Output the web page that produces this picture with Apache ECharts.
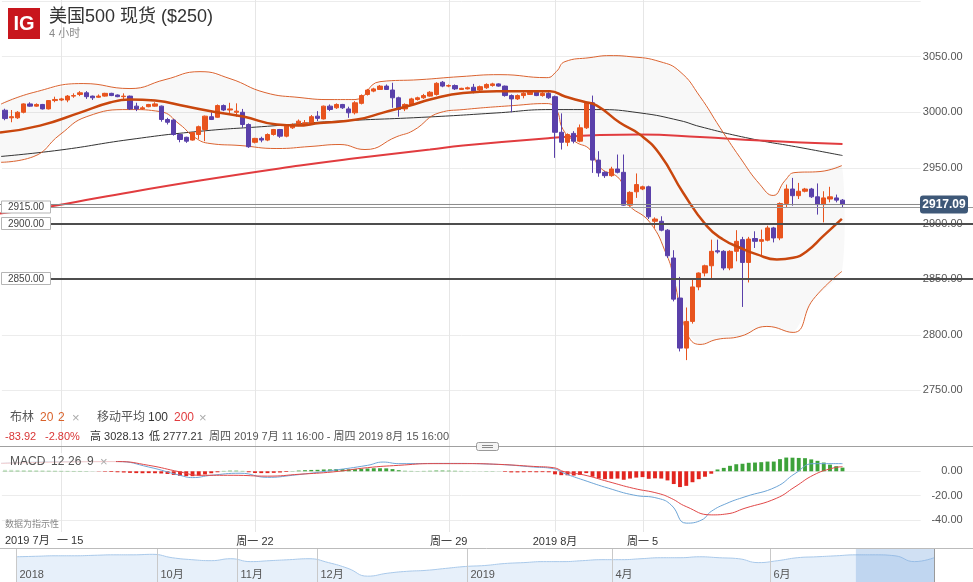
<!DOCTYPE html>
<html><head><meta charset="utf-8">
<script src="https://cdn.jsdelivr.net/npm/echarts@6/dist/echarts.min.js"></script>
<style>html,body{margin:0;padding:0;background:#fff}#c{width:973px;height:582px}</style>
</head><body><div id="c"></div>
<script>
// ---- DATA ----
// 4-hour candles, [open, close, low, high], 11 Jul 2019 16:00 .. 15 Aug 2019 16:00
const candles = [
[3001.8,2994.3,2992.8,3003.2],[2995,2996,2991,3002],[2995,3000,2994,3001],[3000,3007.5,2999,3008],
[3007.5,3005.5,3005,3009],[3005.5,3007,3005,3008],[3007,3003,3002.5,3007.5],[3003,3010.5,3002.5,3011],
[3010.5,3011.5,3009,3014],[3011,3012,3010,3013],[3011,3014.5,3009,3015.5],[3014.5,3015,3013,3017],
[3016,3017.5,3014.5,3019],[3017.5,3014,3012,3019],[3014.5,3013,3011,3015],[3013.5,3014.5,3013,3016],
[3014.5,3017,3014,3017.5],[3017,3015,3014.5,3017.5],[3015.5,3014,3013.5,3016],[3014,3014.5,3011,3017],
[3014.5,3003,3002,3015],[3005.5,3003,3001,3008.5],[3003,3004,3002,3005.5],[3005,3007,3004.5,3007.5],
[3005.5,3007.5,3005,3009],[3005.5,2993.5,2991.5,3006],[2993.5,2991,2989,2995],[2993,2980,2979,2994],
[2980,2975.5,2973,2981],[2977.5,2974,2972.5,2978],[2975,2981.7,2974.5,2982],[2980,2987,2976,2988],
[2984.5,2996.5,2974,2997],[2996,2993.5,2993,3000],[2995.5,3006,2995,3007],[3006,3002,3001,3007],
[3002,3003,2998,3008.5],[3000,3001,2996,3008],[3000,2989,2986,3003],[2989,2969,2968,2990],
[2973,2976.5,2972,2977],[2976.5,2975,2973,2978],[2975,2980,2974,2981],[2980,2984.5,2979,2985],
[2984.5,2978.5,2977,2985],[2978.5,2987.5,2977.5,2988],[2986,2989,2985,2990],[2988.5,2992,2987.5,2993.5],
[2989.5,2990.5,2988,2993],[2990,2996,2989,2997.5],[2996.5,2994.5,2992,3001],[2994,3005.5,2993.5,3006],
[3005.5,3002.5,3001,3007],[3004,3007,3003,3008],[3007,3004,3003,3007.5],[3003,2999.5,2995,3005],
[2999.5,3008.5,2998,3010],[3008,3015,3007,3016],[3016,3020,3015,3021],[3019,3021,3018,3022],
[3020.5,3023.5,3020,3024.5],[3023.5,3020.5,3020,3025],[3020,3013,3004,3026.5],[3013,3002.5,2996,3014],
[3003,3007,3001,3008],[3007,3012,3006,3013],[3011.5,3013,3010.5,3014],[3013,3015,3012,3016.5],
[3014.5,3018,3014,3019],[3016,3026,3015,3027],[3027,3023.5,3022.5,3028.1],[3023.5,3024,3022.5,3025],
[3024,3021,3020,3025],[3020.5,3021.5,3020,3022],[3021,3022,3020.5,3023],[3022.5,3019,3017,3025.5],
[3020,3023,3019,3024],[3022,3025,3021,3026],[3024,3025.5,3023,3026.5],[3025.5,3023.5,3023,3026],
[3023.5,3015,3014,3024],[3015,3012,3000,3016],[3012,3015,3011,3016],[3015,3017,3012.5,3018],
[3016,3018,3015.5,3019],[3018,3015,3014.5,3019.5],[3015,3017,3014,3018],[3017,3013,3012,3018],
[3014,2982,2959,3015],[2982,2973,2966.5,2999],[2973,2980,2969.5,2981],[2981,2974,2972,2983],
[2974,2986,2973,2989],[2986,3008.5,2985,3009],[3008.5,2957,2945.5,3015],[2957,2945.5,2942,2965],
[2946,2943,2941,2947],[2943,2949,2942,2951],[2949,2946,2945,2962],[2946,2916.5,2916,2962],
[2916.5,2928,2915,2929],[2928.5,2935,2923,2945],[2931,2933,2930,2934],[2933,2906,2904,2934],
[2902,2904,2896,2905.5],[2902,2894,2893,2906.5],[2894,2871,2869,2895],[2869,2832,2830,2876],
[2833,2788,2785,2852],[2788,2812,2777.2,2824.5],[2812,2843,2810,2851],[2843,2855.5,2840,2856],
[2855.5,2862,2852.5,2863],[2862,2875,2850,2885.5],[2875.5,2874.5,2873,2885.5],[2875,2860,2858,2876],
[2860,2875,2858,2876],[2875,2884,2866,2894],[2885.5,2865,2825,2888],[2865,2886,2847,2888],
[2886.5,2884,2878,2893],[2884,2885.5,2870,2894.5],[2885,2896,2884,2898],[2896,2887,2883,2897],
[2887,2918,2885,2919],[2918,2931,2914,2935],[2931,2925,2916,2941],[2925,2929,2922,2936.5],
[2929,2931,2928,2932],[2931,2924,2923,2932],[2924,2917,2908,2936],[2917,2923,2901,2929],
[2922,2924,2919,2933],[2923,2921,2919,2926],[2921,2917.09,2914,2922]
];
const barSlots = 147; // bar slots on the time axis (candles + empty space)
const categories = Array.from({length: barSlots}, (_, i) => String(i));
// Indicator lines: [bar index, value]
const bbUpper = [[-0.8,3006.9],[4.5,3017.7],[12.5,3025.8],[20,3021.3],[25.6,3029.3],[31.2,3036.5],[36,3030.2],[41.6,3017.7],[47.2,3013.2],[52,3011.4],[56,3011.4],[60,3027.5],[66.4,3029.3],[72.8,3032],[79.2,3033.8],[86.7,3031.1],[88.2,3036.5],[89.6,3045.5],[93.6,3049.1],[96.8,3050.9],[100,3050],[104.8,3045.5],[108,3036.5],[111.2,3014.1],[114.4,2986.2],[117.6,2959.3],[120.8,2935],[122.9,2925.2],[124.8,2938.6],[126.4,2945.8],[130.4,2946.7],[133.9,2952.1]];
const bbLower = [[-0.8,2955],[4.5,2960],[8.8,2979.9],[13.1,2996.1],[20,3002.4],[24.8,3000.6],[28,2988.9],[30.4,2977.2],[32.8,2971.9],[37.6,2970.1],[43.5,2967.4],[48.8,2969.2],[53.6,2971],[57.6,2966.5],[62.7,2978.1],[65.3,2983.5],[69.6,2999.7],[73.3,3002.4],[81.3,3006],[86.7,3007.8],[88.2,3002.4],[89.3,2984.4],[91.2,2973.7],[93.6,2966.5],[95.2,2950.3],[98.4,2939.5],[99.5,2918.9],[103.2,2900.9],[105.9,2871.3],[106.9,2853.3],[109.1,2802.1],[111.2,2791.3],[113.9,2795.8],[117.6,2798.5],[121.9,2807.5],[126.1,2802.1],[129.3,2831.7],[133.9,2856.9]];
const bbMiddle = [[-0.8,2981.7],[5.6,2988],[12,2999.7],[16.8,3008.7],[20,3011.4],[24,3010.5],[29.1,3005.1],[33.6,3000.2],[38.1,2996.1],[43.5,2988.9],[46.7,2988],[50.4,2990.3],[56.3,2993.4],[60.5,2999.7],[64.8,3006],[68,3011.4],[73.3,3017.4],[78.7,3018.8],[87.2,3018.8],[89.6,3014.1],[92.5,3009.6],[94.7,3006],[98.4,2990.5],[101.6,2979.9],[104.8,2962],[108.5,2927.6],[112.3,2897.6],[114.9,2885.6],[117.6,2878.2],[120.3,2872.2],[123.5,2867.7],[126.1,2869.2],[128.3,2875.1],[130.9,2888.6],[133.9,2904.2]];
const ma100 = [[-0.8,2960.2],[8.8,2966],[20,2975.5],[31.2,2982.9],[42,2987.4],[52,2991.6],[68,2995.8],[78.7,2999.4],[87.2,3002.4],[94.7,3002.4],[101.6,2999.4],[108,2992.5],[111.2,2987.1],[119.2,2976.4],[127.2,2968.3],[134,2961.1]];
const ma200 = [[-0.8,2909],[7.2,2915.3],[15.2,2923.4],[31.2,2938.6],[47.2,2952.1],[55.7,2958.4],[68,2966.5],[73.3,2970.1],[87.2,2976.8],[95.2,2979.5],[101.6,2980],[111.2,2977.7],[120.8,2974.5],[134,2971.4]];
// MACD (12,26,9)
const macdHist = [1.2,1.2,1.1,1.0,1.0,0.9,0.8,0.7,0.6,0.5,0.4,0.3,0.3,0.2,0.1,-0.2,-0.4,-0.6,-0.8,-1.0,
-1.3,-1.5,-1.6,-1.5,-1.6,-1.8,-2.2,-3.0,-3.8,-4.0,-4.0,-3.6,-2.6,-1.6,-0.8,0.3,0.5,0.5,0.3,-0.8,
-1.4,-1.5,-1.5,-1.3,-1.0,-0.6,0.2,0.6,0.9,1.1,1.2,1.5,1.6,1.8,1.8,1.6,1.8,2.1,2.3,2.5,
2.5,2.4,1.8,0.9,0.4,0.3,0.2,0.3,0.4,0.6,0.6,0.5,0.4,0.3,0.2,0.1,0.1,0.2,0.2,0.1,
-0.5,-0.9,-0.9,-0.8,-0.7,-0.8,-0.7,-0.8,-2.5,-3.2,-3.3,-3.5,-3.0,-1.5,-4.5,-6.0,-6.5,-6.2,-6.0,-7.0,
-6.0,-5.2,-4.8,-6.2,-5.8,-6.0,-7.5,-10.5,-13.0,-12.0,-9.0,-6.5,-4.5,-2.0,1.5,2.8,4.5,5.8,6.2,7.0,
7.2,7.5,8.0,8.0,10.0,11.3,11.2,11.0,10.8,9.8,8.6,7.2,5.5,4.2,3.0];
const macdLine = [[-0.8,6.5],[8.8,8],[18,8],[23,3.5],[28,-3.3],[30,-5.2],[33,-3.3],[37.6,-1.6],[42,-5],[46,-3.3],[52.5,0.8],[58,4.9],[60.5,7.6],[63,6.3],[70.7,6.5],[78.7,5.7],[84.6,3.5],[87.7,2.2],[89.6,-1.9],[92.6,-7.3],[96.6,-14],[100.6,-19.6],[104.5,-22.3],[106.6,-27.8],[109,-42.7],[111.5,-40],[113,-33],[115.5,-26.4],[118.4,-21],[123.4,-12.8],[126.4,-1.9],[129.4,6.3],[134,6.3]];
const signalLine = [[-0.8,6.5],[18,8],[23,4.9],[28,-0.5],[31.2,-3.3],[36.5,-3.3],[42,-4],[47.2,-2.4],[52.5,-0.5],[58,3],[63,4.9],[68.5,6.3],[74,6.3],[79,5.7],[84.6,4],[87.7,3],[89.6,-0.5],[92.6,-3],[96.6,-8.6],[100.6,-14.1],[104.5,-18.2],[106.6,-22.3],[109,-29.1],[113,-35.9],[115.5,-35.1],[118.4,-30.4],[123.4,-22.3],[126.4,-12.8],[129.4,-3],[132.3,2.4],[134,3.8]];
// x-axis ticks (bar index -> label)
const tickIndex = [9, 40, 71, 88, 102];
const tickLabels = ['一 15', '周一 22', '周一 29', '2019 8月', '周一 5'];
const monthLabel = '2019 7月';
// horizontal levels
const levels = [2915, 2900, 2850];
const lastPrice = 2917.09;
// overview navigator (one year), evenly spaced samples
const navValues = [2888,2901,2915,2915,2928,2941,2941,2955,2862,2809,2782,2835,2756,2782,2809,2835,2729,2571,2359,2438,2491,2518,2571,2623,2650,2703,2729,2756,2756,2782,2809,2809,2835,2862,2862,2888,2862,2835,2729,2782,2862,2888,2915,2941,2941,2915,2756,2862];
const navTickPos = [0, 7.2, 11.3, 15.4, 23.1, 30.5, 38.6];
const navTickLabels = ['2018','10月','11月','12月','2019','4月','6月'];
const navWindow = [43, 47];

// ---- CHART ----
const FONT = 'Arial, "Liberation Sans", "Noto Sans CJK SC", sans-serif';
const upColor = '#e8541e', downColor = '#5a40aa';
const bandColor = '#da6330', midColor = '#c9470e';
const L = 1.875, BW = 6.25;
const R = 973 - L - BW * barSlots;
const chart = echarts.init(document.getElementById('c'));
const hideAxis = {axisLine:{show:false}, axisTick:{show:false}, axisLabel:{show:false}, splitLine:{show:false}};
const tickMap = {}; tickIndex.forEach((t, k) => tickMap[t] = tickLabels[k]);

const option = {
  animation: false,
  textStyle: {fontFamily: FONT},
  grid: [
    {left: L, right: R, top: 1, height: 445},
    {left: L, right: R, top: 447, height: 85},
    {left: 16, right: 39, top: 549, height: 33}
  ],
  xAxis: [
    Object.assign({type:'category', gridIndex:0, data: categories, boundaryGap:true}, hideAxis),
    {type:'value', gridIndex:0, min:-0.5, max:barSlots-0.5, show:false},
    {type:'category', gridIndex:1, data: categories, boundaryGap:true, axisLine:{show:false}, axisTick:{show:false}, splitLine:{show:false},
     axisLabel:{show:true, interval:0, margin:4, color:'#333', fontSize:11, fontFamily: FONT, formatter:(v, idx)=> (idx === tickIndex[0] ? '' : (tickMap[idx] || ''))}},
    {type:'value', gridIndex:1, min:-0.5, max:barSlots-0.5, show:false},
    {type:'value', gridIndex:2, min:0, max:47, show:false}
  ],
  yAxis: [
    {type:'value', gridIndex:0, position:'right', min:2700, max:3100, interval:50,
     axisLine:{show:false}, axisTick:{show:false},
     axisLabel:{showMinLabel:false, showMaxLabel:false, align:'right', margin:42, color:'#555', fontSize:11, fontFamily: FONT, formatter:v=>v.toFixed(2)},
     splitLine:{lineStyle:{color:'#ececec'}}},
    {type:'value', gridIndex:1, position:'right', min:-50, max:20, interval:10,
     axisLine:{show:false}, axisTick:{show:false},
     axisLabel:{align:'right', margin:42, color:'#555', fontSize:11, fontFamily: FONT, formatter:v=> (v===0||v===-20||v===-40) ? v.toFixed(2) : ''},
     splitLine:{lineStyle:{color:['rgba(0,0,0,0)','#ececec','rgba(0,0,0,0)','#ececec','rgba(0,0,0,0)','#ececec','rgba(0,0,0,0)','rgba(0,0,0,0)']}}},
    {type:'value', gridIndex:2, min:2200, max:3100, show:false}
  ],
  series: [
    {type:'custom', xAxisIndex:1, yAxisIndex:0, data:[[0,0]], silent:true, z:1,
     renderItem:(params, api) => {
       const pts = bbUpper.map(p => api.coord(p)).concat(bbLower.slice().reverse().map(p => api.coord(p)));
       return {type:'polygon', shape:{points:pts, smooth:0.2}, style:{fill:'rgba(0,0,0,0.028)'}};
     }},
    {type:'line', xAxisIndex:1, yAxisIndex:0, data: ma100, smooth:true, showSymbol:false, silent:true, z:2, lineStyle:{color:'#333', width:1}},
    {type:'line', xAxisIndex:1, yAxisIndex:0, data: ma200, smooth:true, showSymbol:false, silent:true, z:2, lineStyle:{color:'#e13c3f', width:2}},
    {type:'line', xAxisIndex:1, yAxisIndex:0, data: bbUpper, smooth:true, showSymbol:false, silent:true, z:2, lineStyle:{color:bandColor, width:1}},
    {type:'line', xAxisIndex:1, yAxisIndex:0, data: bbLower, smooth:true, showSymbol:false, silent:true, z:2, lineStyle:{color:bandColor, width:1}},
    {type:'candlestick', xAxisIndex:0, yAxisIndex:0, data: candles, barWidth:'78%', z:3,
     itemStyle:{color:upColor, color0:downColor, borderColor:upColor, borderColor0:downColor, borderWidth:1}},
    {type:'line', xAxisIndex:1, yAxisIndex:0, data: bbMiddle, smooth:true, showSymbol:false, silent:true, z:4, lineStyle:{color:midColor, width:2.5}},
    {type:'bar', xAxisIndex:2, yAxisIndex:1, data: macdHist, barWidth:'62%', silent:true,
     itemStyle:{color: p => p.value >= 0 ? '#3da23a' : '#e2251f'}},
    {type:'line', xAxisIndex:3, yAxisIndex:1, data: macdLine, smooth:true, showSymbol:false, silent:true, lineStyle:{color:'#6ea5d6', width:1}},
    {type:'line', xAxisIndex:3, yAxisIndex:1, data: signalLine, smooth:true, showSymbol:false, silent:true, lineStyle:{color:'#e04848', width:1}},
    {type:'line', xAxisIndex:4, yAxisIndex:2, data: navValues.map((v,k)=>[k,v]), smooth:true, showSymbol:false, silent:true,
     lineStyle:{color:'#a9c9ea', width:1}, areaStyle:{color:'#e7f0fa', opacity:1}}
  ]
};
chart.setOption(option);

// ---- overlay graphics positioned through the axes ----
const px = v => chart.convertToPixel({xAxisIndex:1}, v);
const py = v => chart.convertToPixel({yAxisIndex:0}, v);
const nx = v => chart.convertToPixel({xAxisIndex:4}, v);
const g = [];
const txt = (x, y, s, color, size, extra) => g.push(Object.assign({type:'text', x, y, z:50, style:Object.assign({text:s, fill:color, font:`${size}px ${FONT}`, textVerticalAlign:'middle'}, extra||{})}));
// vertical week grid lines
tickIndex.forEach(t => { const x = Math.round(px(t)) + 0.5; g.push({type:'line', z:0, shape:{x1:x, y1:0, x2:x, y2:532}, style:{stroke:'#e6e6e6', lineWidth:1}}); });
// horizontal level lines
const yLast = py(lastPrice);
g.push({type:'line', z:20, shape:{x1:0, y1:yLast, x2:920, y2:yLast}, style:{stroke:'#8a8a8a', lineWidth:1}});
levels.forEach((lv, k) => {
  const y = Math.round(py(lv)) + (k === 0 ? 0.5 : 0);
  g.push({type:'line', z:20, shape:{x1:51, y1:y, x2:973, y2:y}, style:{stroke: k===0 ? '#9a9a9a' : '#4d4d4d', lineWidth: k===0 ? 1 : 2}});
  g.push({type:'rect', z:21, shape:{x:1.5, y:y-6.5, width:49, height:12}, style:{fill:'#fff', stroke:'#b5b5b5', lineWidth:1}});
  txt(8, y, lv.toFixed(2), '#444', 10);
});
// last price box
g.push({type:'rect', z:22, shape:{x:920, y:yLast-9, width:48, height:18, r:3}, style:{fill:'#3e5878'}});
txt(944, yLast, lastPrice.toFixed(2), '#fff', 12, {textAlign:'center', font:`bold 12px ${FONT}`});
// header
g.push({type:'rect', z:30, shape:{x:8, y:8, width:32, height:31}, style:{fill:'#c8161d'}});
txt(24, 24, 'IG', '#fff', 20, {textAlign:'center', font:`bold 20px ${FONT}`});
txt(49, 17, '美国500 现货 ($250)', '#333', 18);
txt(49, 34, '4 小时', '#888', 11);
// legend rows
txt(10, 418, '布林', '#555', 12); txt(40, 418, '20', '#d9622b', 12); txt(58, 418, '2', '#d9622b', 12); txt(72, 418, '×', '#aaa', 13);
txt(97, 418, '移动平均', '#555', 12); txt(148, 418, '100', '#333', 12); txt(174, 418, '200', '#e13c3f', 12); txt(199, 418, '×', '#aaa', 13);
txt(5, 437, '-83.92', '#d93636', 11); txt(45, 437, '-2.80%', '#d93636', 11);
txt(90, 437, '高 3028.13', '#333', 11); txt(149, 437, '低 2777.21', '#333', 11);
txt(209, 437, '周四 2019 7月 11 16:00 - 周四 2019 8月 15 16:00', '#555', 11);
// pane separator + handle
g.push({type:'line', z:30, shape:{x1:0, y1:446.5, x2:973, y2:446.5}, style:{stroke:'#a0a0a0', lineWidth:1}});
g.push({type:'rect', z:31, shape:{x:476.5, y:442.5, width:22, height:8, r:2}, style:{fill:'#f4f4f4', stroke:'#999', lineWidth:1}});
g.push({type:'line', z:32, shape:{x1:482, y1:445.5, x2:493, y2:445.5}, style:{stroke:'#888', lineWidth:1}});
g.push({type:'line', z:32, shape:{x1:482, y1:447.5, x2:493, y2:447.5}, style:{stroke:'#888', lineWidth:1}});
// MACD label
g.push({type:'rect', z:40, shape:{x:0, y:453, width:116, height:18}, style:{fill:'rgba(255,255,255,0.72)'}});
txt(10, 462, 'MACD', '#555', 12); txt(51, 462, '12', '#555', 12); txt(68, 462, '26', '#555', 12); txt(87, 462, '9', '#555', 12); txt(100, 462, '×', '#aaa', 13);
txt(5, 525, '数据为指示性', '#888', 9);
txt(5, 541, monthLabel, '#333', 11);
txt(57, 541, tickLabels[0], '#333', 11);
// navigator
g.push({type:'line', z:30, shape:{x1:0, y1:548.5, x2:973, y2:548.5}, style:{stroke:'#bbb', lineWidth:1}});
navTickPos.forEach((p, k) => {
  const x = Math.round(nx(p)) + 0.5;
  g.push({type:'line', z:31, shape:{x1:x, y1:549, x2:x, y2:582}, style:{stroke:'#c9c9c9', lineWidth:1}});
  txt(x + 3, 575, navTickLabels[k], '#555', 11);
});
const w0 = nx(navWindow[0]), w1 = nx(navWindow[1]);
g.push({type:'rect', z:29, shape:{x:w0, y:549, width:w1-w0, height:33}, style:{fill:'rgba(120,165,220,0.35)'}});
g.push({type:'line', z:31, shape:{x1:Math.round(w1)+0.5, y1:549, x2:Math.round(w1)+0.5, y2:582}, style:{stroke:'#9a9a9a', lineWidth:1}});
chart.setOption({graphic: g});
</script>
</body></html>
